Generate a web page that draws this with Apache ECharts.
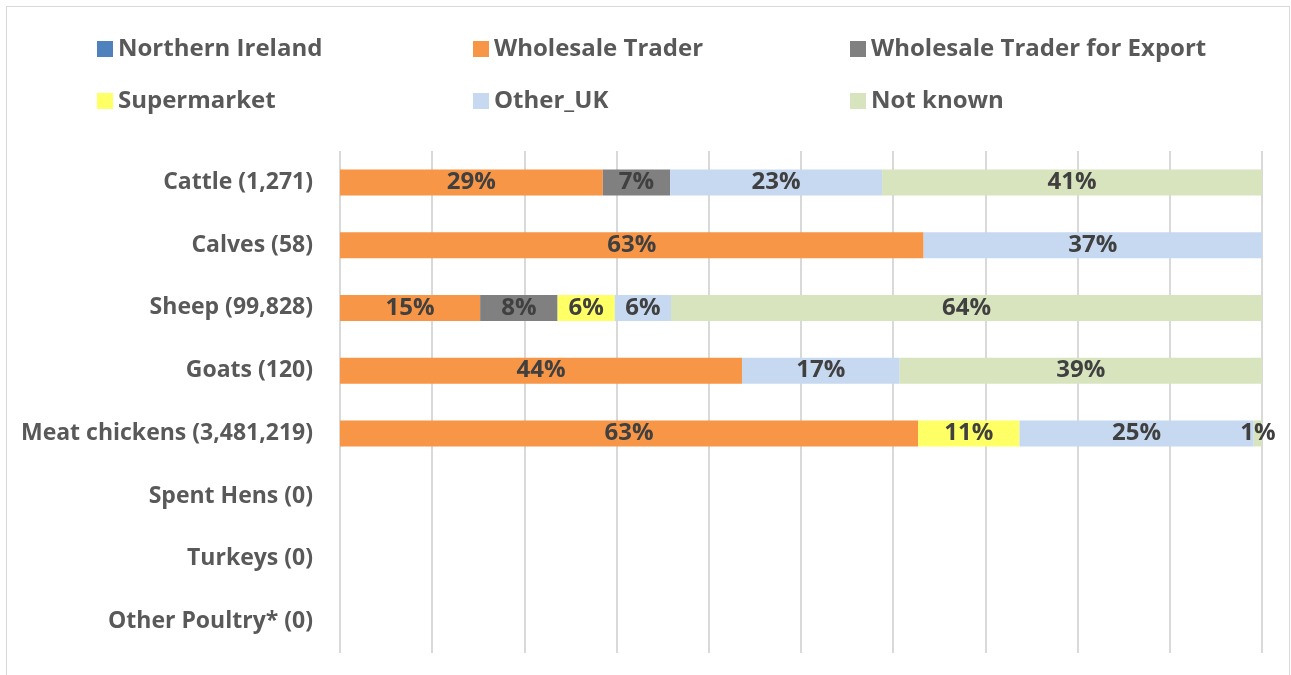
<!DOCTYPE html>
<html>
<head>
<meta charset="utf-8">
<script src="https://cdn.jsdelivr.net/npm/echarts@6/dist/echarts.min.js"></script>
<style>
    html, body {margin: 0; padding: 0; background: #fff;}
    #frame {position: absolute; left: 6px; top: 6px; width: 1282px; height: 680px; border: 1px solid #d9d9d9;}
    #chart {position: absolute; left: 0; top: 0; width: 1291px; height: 675px;}
</style>
</head>
<body>
<div id="frame"></div>
<div id="chart"></div>
<script>
    const categories = ['Cattle (1,271)', 'Calves (58)', 'Sheep (99,828)', 'Goats (120)',
        'Meat chickens (3,481,219)', 'Spent Hens (0)', 'Turkeys (0)', 'Other Poultry* (0)'];

    // shares in %
    const northernIreland = [0, 0, 0, 0, 0, 0, 0, 0];
    const wholesaleTrader = [28.5, 63.3, 15.2, 43.6, 62.7, 0, 0, 0];
    const wholesaleExport = [7.3, 0, 8.4, 0, 0, 0, 0, 0];
    const supermarket = [0, 0, 6.2, 0, 11.0, 0, 0, 0];
    const otherUK = [23.0, 36.7, 6.1, 17.1, 25.4, 0, 0, 0];
    const notKnown = [41.2, 0, 64.1, 39.3, 0.9, 0, 0, 0];

    const seriesDefs = [
        {name: 'Northern Ireland', data: northernIreland, color: '#4f81bd'},
        {name: 'Wholesale Trader', data: wholesaleTrader, color: '#f79646'},
        {name: 'Wholesale Trader for Export', data: wholesaleExport, color: '#808080'},
        {name: 'Supermarket', data: supermarket, color: '#ffff66'},
        {name: 'Other_UK', data: otherUK, color: '#c6d9f1'},
        {name: 'Not known', data: notKnown, color: '#d7e4bd'}
    ];

    const font = '"Open Sans", Lato, sans-serif';
    const chart = echarts.init(document.getElementById('chart'));

    // one legend per item so the three columns line up like the original
    const legendCols = [97, 473, 850];
    const legendRows = [37, 89];
    const legends = seriesDefs.map((s, i) => ({
        left: legendCols[i % 3],
        top: legendRows[Math.floor(i / 3)],
        padding: 0,
        data: [s.name],
        itemWidth: 16,
        itemHeight: 16,
        itemGap: 0,
        icon: 'rect',
        textStyle: {color: '#595959', fontWeight: 'bold', fontSize: 24, fontFamily: font}
    }));

    chart.setOption({
        animation: false,
        legend: legends,
        grid: {left: 340, right: 29, top: 151, bottom: 22, containLabel: false},
        xAxis: {
            type: 'value', min: 0, max: 100, interval: 10,
            axisLabel: {show: false}, axisLine: {show: false}, axisTick: {show: false},
            splitLine: {lineStyle: {color: '#d9d9d9', width: 2}}
        },
        yAxis: {
            type: 'category', inverse: true, data: categories,
            axisLine: {show: false}, axisTick: {show: false},
            axisLabel: {color: '#595959', fontWeight: 'bold', fontSize: 23, fontFamily: font, margin: 27}
        },
        series: seriesDefs.map(s => ({
            name: s.name,
            type: 'bar',
            stack: 'total',
            barWidth: 26,
            data: s.data,
            itemStyle: {color: s.color},
            label: {
                show: true,
                position: 'inside',
                color: '#404040',
                fontWeight: 'bold',
                fontSize: 24,
                fontFamily: font,
                formatter: p => p.value > 0 ? Math.round(p.value) + '%' : ''
            }
        }))
    });
</script>
</body>
</html>
